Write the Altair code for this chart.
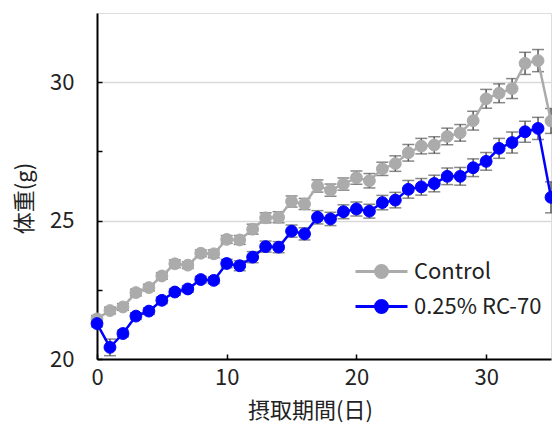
import altair as alt
import pandas as pd

days = list(range(36))
series_names = ["Control", "0.25% RC-70"]

control_mean = [21.45, 21.75, 21.88, 22.40, 22.58, 23.00, 23.44, 23.39, 23.82, 23.80,
                24.32, 24.30, 24.69, 25.10, 25.12, 25.69, 25.60, 26.25, 26.10, 26.32,
                26.55, 26.44, 26.87, 27.06, 27.45, 27.69, 27.73, 28.04, 28.17, 28.61,
                29.40, 29.60, 29.77, 30.68, 30.78, 28.60]
control_se = [0.12, 0.12, 0.12, 0.12, 0.12, 0.12, 0.14, 0.12, 0.12, 0.14,
              0.14, 0.16, 0.18, 0.18, 0.20, 0.20, 0.20, 0.22, 0.22, 0.22,
              0.24, 0.26, 0.24, 0.28, 0.30, 0.28, 0.30, 0.30, 0.30, 0.34,
              0.34, 0.34, 0.36, 0.40, 0.40, 0.45]

rc_mean = [21.28, 20.42, 20.92, 21.55, 21.73, 22.12, 22.42, 22.53, 22.87, 22.84,
           23.45, 23.37, 23.68, 24.06, 24.04, 24.62, 24.52, 25.12, 25.06, 25.32,
           25.42, 25.34, 25.65, 25.74, 26.13, 26.22, 26.34, 26.60, 26.60, 26.91,
           27.14, 27.61, 27.82, 28.21, 28.33, 25.84]
rc_se = [0.12, 0.30, 0.12, 0.12, 0.12, 0.12, 0.12, 0.12, 0.12, 0.12,
         0.15, 0.18, 0.20, 0.20, 0.20, 0.22, 0.22, 0.24, 0.24, 0.25,
         0.25, 0.25, 0.26, 0.28, 0.32, 0.30, 0.30, 0.30, 0.32, 0.32,
         0.32, 0.36, 0.38, 0.38, 0.40, 0.56]

colors = ["#ababab", "#0000ff"]

rows = []
for name, means, ses in [(series_names[0], control_mean, control_se),
                         (series_names[1], rc_mean, rc_se)]:
    for d, m, s in zip(days, means, ses):
        rows.append({"day": d, "mean": m, "lo": m - s, "hi": m + s, "group": name})
df = pd.DataFrame(rows)

FONT = "Noto Sans CJK JP"
FS = 22
W, H = 454, 346

xscale = alt.Scale(domain=[0, 35], nice=False, zero=False)
yscale = alt.Scale(domain=[20, 32.5], nice=False, zero=False)

x_lab_axis = alt.Axis(values=[0, 10, 20, 30], ticks=False, tickSize=0, domain=False, grid=False,
                      labelFlush=False,
                      labelFont=FONT, labelFontSize=FS, labelColor="#222", labelPadding=8,
                      titleFont=FONT, titleFontSize=FS, titleFontWeight="normal", titleColor="#222",
                      titleX=213, titleY=51, titleBaseline="middle", titleAlign="center")
y_lab_axis = alt.Axis(values=[20, 25, 30], ticks=False, tickSize=0, domain=False, grid=True,
                      gridColor="#d9d9d9", gridWidth=1.5, labelFlush=False,
                      labelFont=FONT, labelFontSize=FS, labelColor="#222", labelPadding=23,
                      titleFont=FONT, titleFontSize=FS, titleFontWeight="normal", titleColor="#222",
                      titlePadding=13, titleY=185, titleAlign="center")
x_tick_axis = alt.Axis(orient="top", offset=-H, values=[0, 10, 20, 30], labels=False, title=None,
                       grid=False, ticks=True, tickSize=5, tickWidth=1.5, tickColor="black",
                       domain=True, domainColor="black", domainWidth=2)
y_tick_axis = alt.Axis(orient="right", offset=-W, values=[20, 22.5, 25, 27.5, 30], labels=False,
                       title=None, grid=False, ticks=True, tickSize=5, tickWidth=1.5,
                       tickColor="black", domain=True, domainColor="black", domainWidth=2)

legend = alt.Legend(
    title=None, orient="none", legendX=257, legendY=242, padding=0,
    symbolType="M-1,0H1M0,-0.23A0.23,0.23 0 1 1 0,0.23A0.23,0.23 0 1 1 0,-0.23Z",
    symbolSize=2704, symbolStrokeWidth=3, clipHeight=33, rowPadding=2,
    labelFont=FONT, labelFontSize=FS, labelColor="#222", labelOffset=5,
)
cscale = alt.Scale(domain=series_names, range=colors)

base = alt.Chart(df)

err = base.mark_errorbar(ticks=True, size=12, thickness=1.5, color="#555555").encode(
    x=alt.X("day:Q", scale=xscale, axis=x_lab_axis, title="摂取期間(日)"),
    y=alt.Y("lo:Q", scale=yscale, axis=y_lab_axis, title="体重(g)"),
    y2="hi:Q",
    detail="group:N",
)

line = base.mark_line(strokeWidth=2.5).encode(
    x=alt.X("day:Q", scale=xscale, axis=x_tick_axis),
    y=alt.Y("mean:Q", scale=yscale, axis=y_tick_axis),
    stroke=alt.Stroke("group:N", scale=cscale, legend=legend, sort=series_names),
)

pts = base.mark_point(filled=True, size=140, opacity=1, strokeWidth=1).encode(
    x=alt.X("day:Q", scale=xscale, axis=None),
    y=alt.Y("mean:Q", scale=yscale, axis=None),
    fill=alt.Fill("group:N", scale=cscale, legend=legend, sort=series_names),
    stroke=alt.Stroke("group:N", scale=cscale, legend=legend, sort=series_names),
)

chart = alt.layer(err, line, pts).resolve_axis(x="independent", y="independent").properties(
    width=W, height=H,
    autosize=alt.AutoSizeParams(type="none"),
    padding={"left": 97, "top": 13, "right": 1, "bottom": 66},
).configure_view(stroke=None).configure(background="white")

chart.save("out.html", embed_options={"renderer": "svg", "actions": False})
